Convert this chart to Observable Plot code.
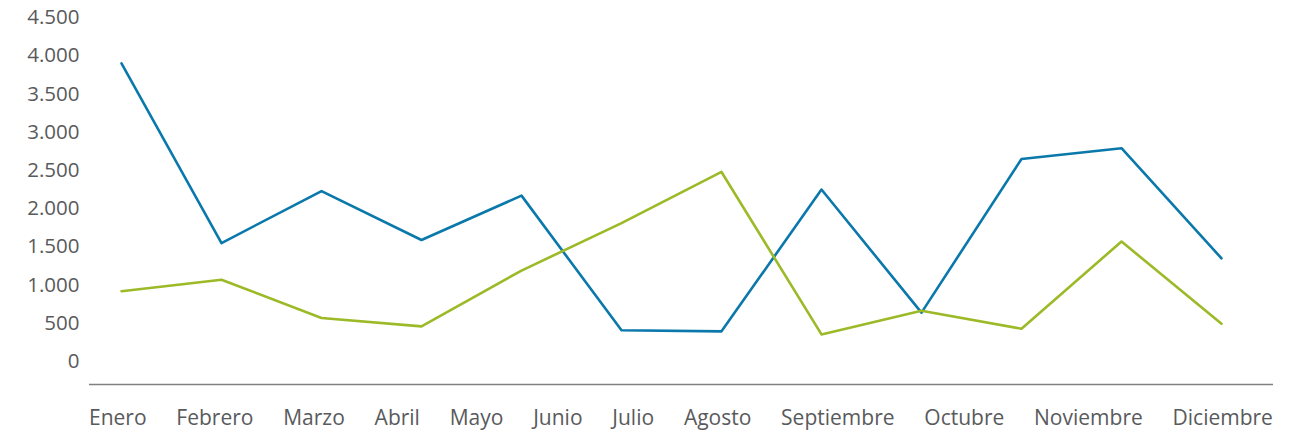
<!DOCTYPE html>
<html>
<head>
<meta charset="utf-8">
<script src="https://cdn.jsdelivr.net/npm/d3@7"></script>
<script src="https://cdn.jsdelivr.net/npm/@observablehq/plot@0.6"></script>
<style>
  html, body { margin: 0; padding: 0; background: #fff; }
  #chart svg { display: block; }
  #xlabels {
    display: flex; justify-content: space-between;
    margin-left: 89px; width: 1184px;
    font-family: "Open Sans", sans-serif; font-size: 21px; color: #595a5c;
    line-height: 27px; margin-top: -3px;
  }
</style>
</head>
<body>
<div id="chart"></div>
<div id="xlabels"></div>
<script>
const months = ["Enero","Febrero","Marzo","Abril","Mayo","Junio","Julio","Agosto","Septiembre","Octubre","Noviembre","Diciembre"];
const serieAzul = [3900, 1550, 2230, 1590, 2170, 410, 395, 2250, 640, 2650, 2790, 1350];
const serieVerde = [920, 1070, 570, 460, 1190, 1810, 2480, 355, 665, 430, 1570, 495];
const yTicks = [0, 500, 1000, 1500, 2000, 2500, 3000, 3500, 4000, 4500];
const yFloor = -300; // axis baseline sits below zero

const data = [
  ...months.map((m, i) => ({mes: m, valor: serieAzul[i], serie: "azul"})),
  ...months.map((m, i) => ({mes: m, valor: serieVerde[i], serie: "verde"}))
];

const fmt = d => d3.format(",")(d).replace(/,/g, ".");

const chart = Plot.plot({
  width: 1297,
  height: 407,
  marginLeft: 89,
  marginRight: 24,
  marginTop: 17,
  marginBottom: 23,
  style: {fontFamily: "'Open Sans', sans-serif", fontSize: "20px", color: "#595a5c", background: "#fff"},
  x: {type: "point", domain: months, padding: 0, insetLeft: 30, insetRight: 51, axis: null},
  y: {domain: [yFloor, 4500], axis: null},
  marks: [
    Plot.axisY({ticks: yTicks, tickSize: 0, tickPadding: 10, tickFormat: fmt, label: null, fill: "#595a5c", fontSize: 20.5}),
    Plot.ruleY([yFloor], {stroke: "#808080", strokeWidth: 1.5}),
    Plot.line(data.filter(d => d.serie === "azul"), {x: "mes", y: "valor", stroke: "#0a78ab", strokeWidth: 2.6}),
    Plot.line(data.filter(d => d.serie === "verde"), {x: "mes", y: "valor", stroke: "#9cba27", strokeWidth: 2.6})
  ]
});
document.getElementById("chart").appendChild(chart);

const xl = document.getElementById("xlabels");
months.forEach(m => { const s = document.createElement("span"); s.textContent = m; xl.appendChild(s); });
</script>
</body>
</html>
